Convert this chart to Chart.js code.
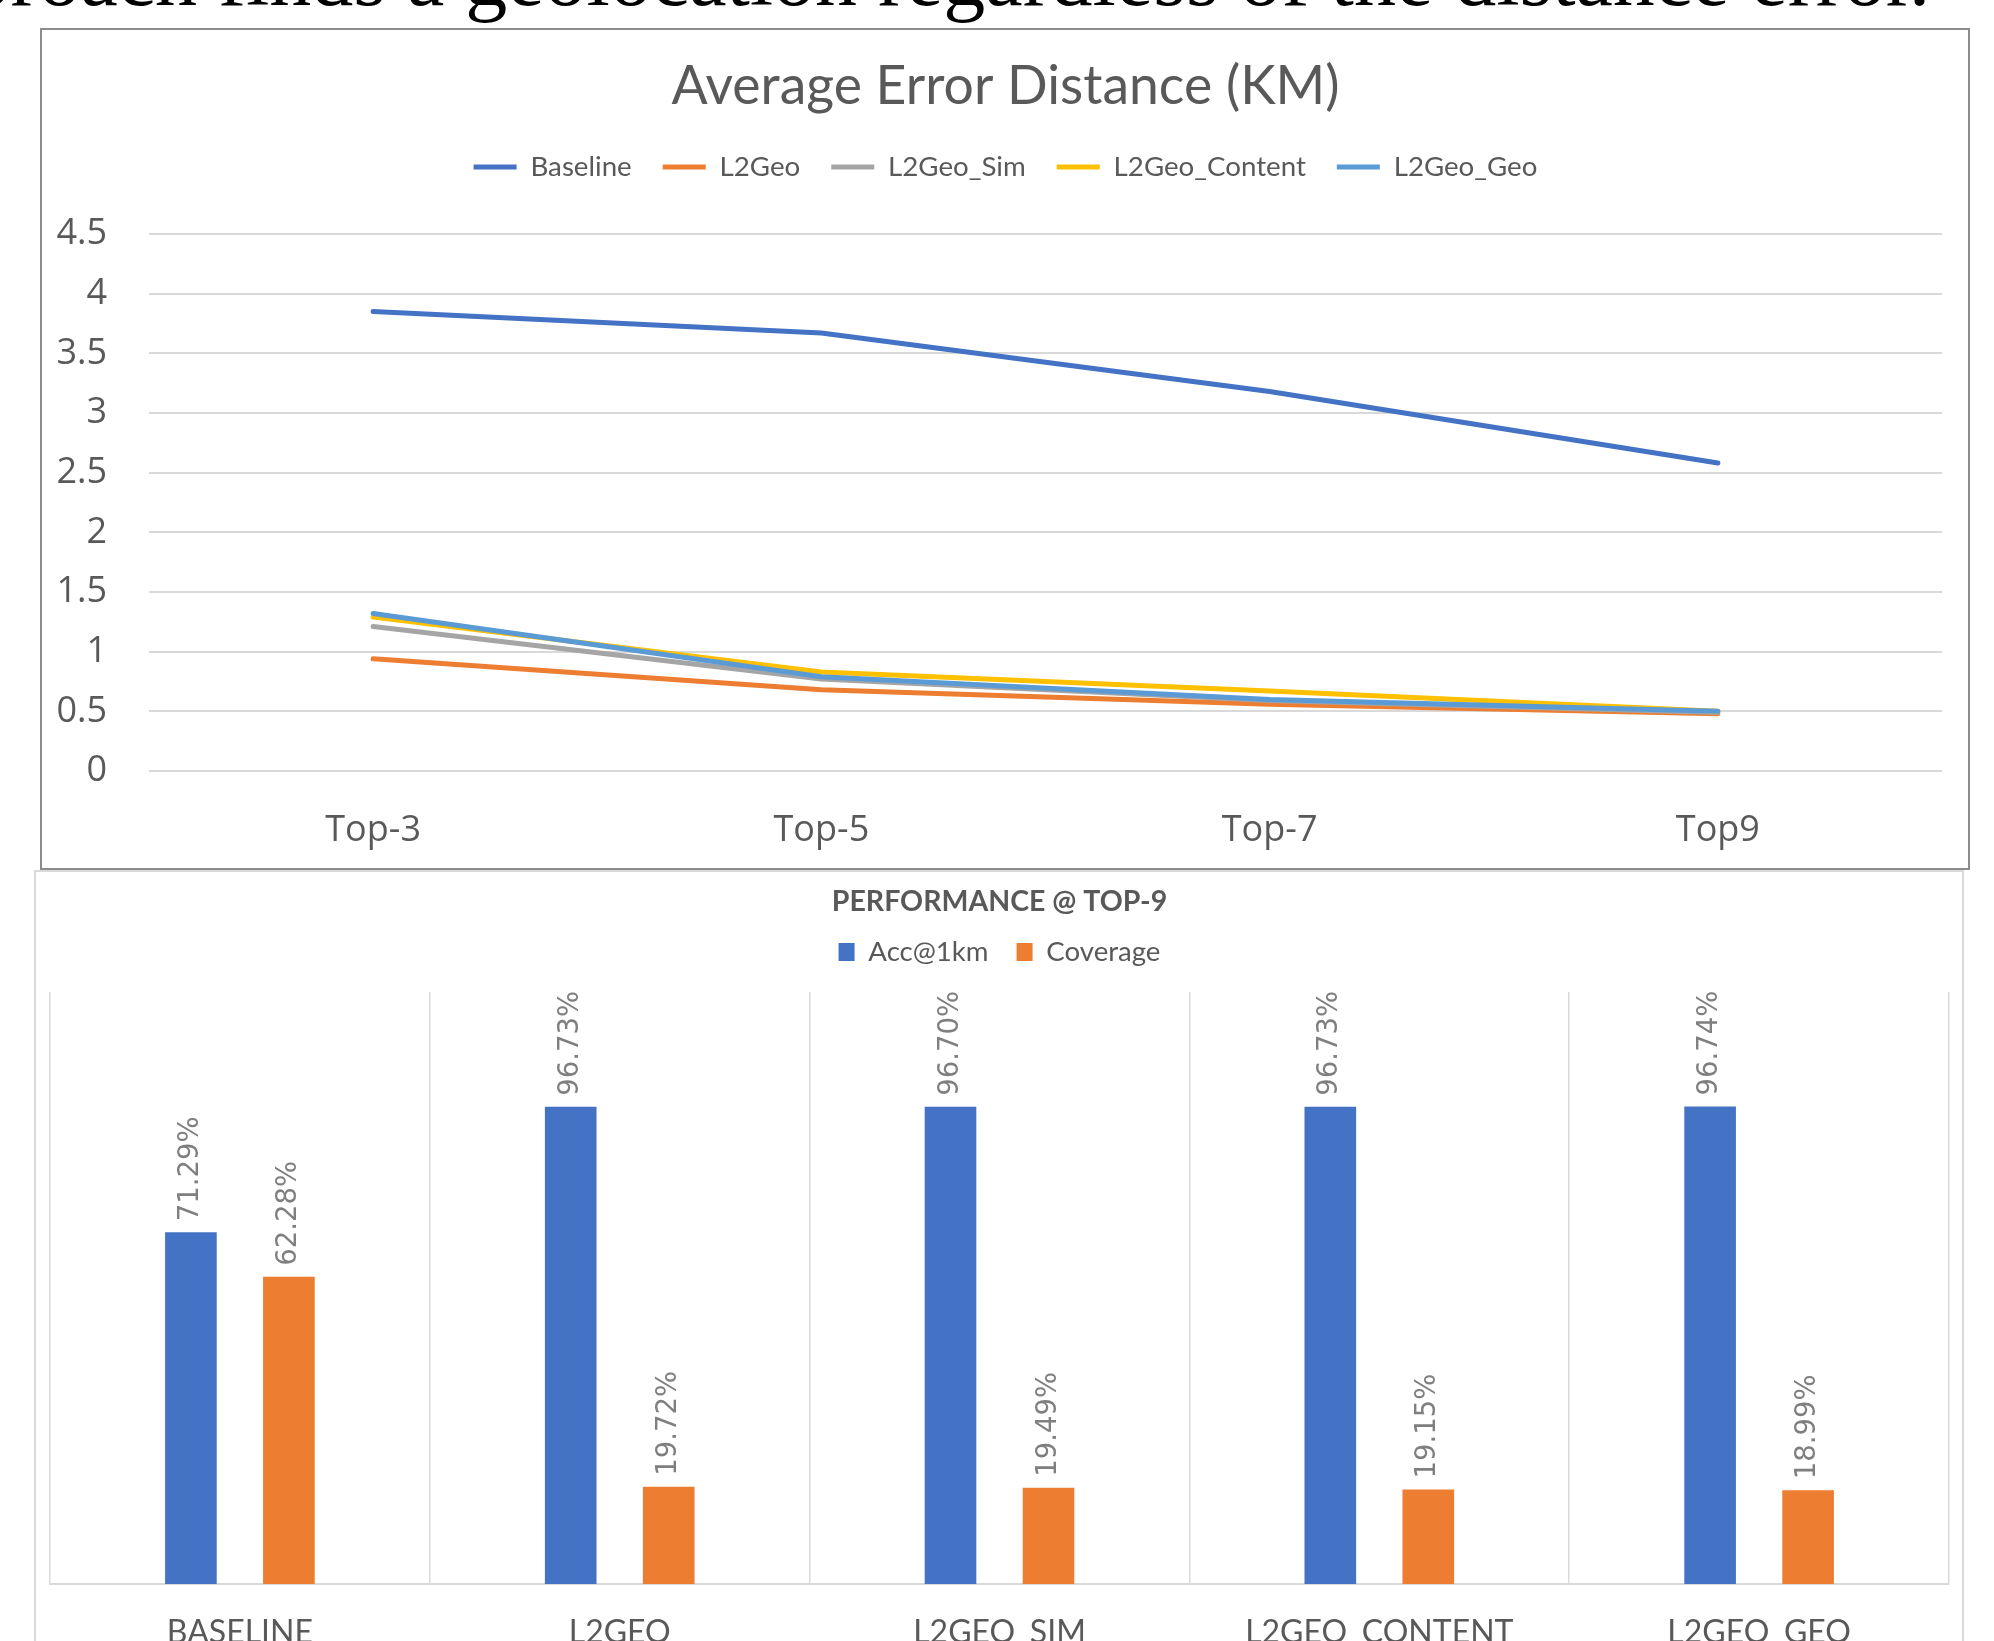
<!DOCTYPE html>
<html>
<head>
<meta charset="utf-8">
<title>Average Error Distance and Performance @ Top-9</title>
<script src="https://cdn.jsdelivr.net/npm/chart.js@4.4.1/dist/chart.umd.min.js"></script>
<style>
  html, body { margin: 0; padding: 0; background: #fff; }
  body { position: relative; width: 1994px; height: 1641px; overflow: hidden; }
  .caption {
    position: absolute; right: 64px; top: -65px;
    font: 84px/1 "Liberation Serif", "Times New Roman", serif;
    color: #000; white-space: nowrap;
  }
  .panel { position: absolute; box-sizing: border-box; background: #fff; }
  #linePanel { left: 40px; top: 28px; width: 1930px; height: 842px; border: 2px solid #8c8c8c; }
  #barPanel { left: 34px; top: 870px; width: 1930px; height: 804px; border: 2px solid #d9d9d9; }
  canvas { position: absolute; left: 0; top: 0; }
</style>
</head>
<body>
<div class="caption">approach finds a geolocation regardless of the distance error.</div>
<div class="panel" id="linePanel"><canvas id="distanceChart" width="1926" height="838"></canvas></div>
<div class="panel" id="barPanel"><canvas id="perfChart" width="1926" height="800"></canvas></div>

<script>
// ---- Average error distance (km) by top-k ----
const topK = ['Top-3', 'Top-5', 'Top-7', 'Top9'];
const baselineKm     = [3.85, 3.67, 3.18, 2.58];
const l2geoKm        = [0.94, 0.68, 0.56, 0.48];
const l2geoSimKm     = [1.21, 0.77, 0.59, 0.49];
const l2geoContentKm = [1.29, 0.83, 0.67, 0.50];
const l2geoGeoKm     = [1.32, 0.79, 0.60, 0.50];
const distanceAxisMax = 4.5;
const distanceAxisStep = 0.5;

// ---- Performance @ Top-9 (percent) ----
const methods  = ['BASELINE', 'L2GEO', 'L2GEO_SIM', 'L2GEO_CONTENT', 'L2GEO_GEO'];
const acc1km   = [71.29, 96.73, 96.70, 96.73, 96.74];
const coverage = [62.28, 19.72, 19.49, 19.15, 18.99];
const percentAxisMax = 120;

const TEXT = '#595959';
const GRID = '#d9d9d9';
const BODY_FONT = 'Lato, "Liberation Sans", sans-serif';
const AXIS_FONT = '"Open Sans", sans-serif';

Chart.defaults.font.family = BODY_FONT;
Chart.defaults.color = TEXT;

// Extra room between a chart's legend and its plot area.
function legendSpacing(extra) {
  return {
    id: 'legendSpacing',
    beforeInit(chart) {
      const fit = chart.legend.fit;
      chart.legend.fit = function () { fit.call(this); this.height += extra; };
    }
  };
}

function lineSeries(label, data, color, order) {
  return {
    label, data, order,
    borderColor: color, backgroundColor: color,
    borderWidth: 5, pointRadius: 0, tension: 0,
    borderCapStyle: 'round', borderJoinStyle: 'round'
  };
}

new Chart(document.getElementById('distanceChart'), {
  type: 'line',
  data: {
    labels: topK,
    datasets: [
      lineSeries('Baseline', baselineKm, '#4472C4', 4),
      lineSeries('L2Geo', l2geoKm, '#ED7D31', 3),
      lineSeries('L2Geo_Sim', l2geoSimKm, '#A5A5A5', 2),
      lineSeries('L2Geo_Content', l2geoContentKm, '#FFC000', 1),
      lineSeries('L2Geo_Geo', l2geoGeoKm, '#5B9BD5', 0)
    ]
  },
  options: {
    responsive: false,
    animation: false,
    layout: { padding: { left: 14, right: 13, top: 0, bottom: 0 } },
    plugins: {
      title: {
        display: true,
        text: 'Average Error Distance (KM)',
        color: TEXT,
        font: { family: BODY_FONT, size: 53.5, weight: 'normal' },
        padding: { top: 25, bottom: 3 }
      },
      legend: {
        display: true,
        labels: {
          usePointStyle: true, pointStyle: 'line', pointStyleWidth: 43,
          padding: 31, color: TEXT,
          font: { family: BODY_FONT, size: 27.7 },
          sort: (a, b) => a.datasetIndex - b.datasetIndex
        }
      },
      tooltip: { enabled: false }
    },
    scales: {
      x: {
        offset: true,
        grid: { display: false, drawTicks: false },
        border: { display: false },
        ticks: { color: TEXT, font: { family: AXIS_FONT, size: 36 }, padding: 38 },
        afterFit: scale => { scale.height = 97; }
      },
      y: {
        min: 0, max: distanceAxisMax,
        grid: { color: GRID, lineWidth: 2, drawTicks: false },
        border: { display: false },
        ticks: {
          stepSize: distanceAxisStep, color: TEXT,
          font: { family: AXIS_FONT, size: 36 }, padding: 42,
          callback: v => String(v)
        },
        afterFit: scale => { scale.width = 93; }
      },
      // blank margin on the right of the plot
      yRight: {
        position: 'right',
        grid: { display: false, drawTicks: false },
        border: { display: false },
        ticks: { display: false },
        afterFit: scale => { scale.width = 13; }
      }
    }
  },
  plugins: [legendSpacing(43)]
});

// Rotated value labels above each bar.
const barValueLabels = {
  id: 'barValueLabels',
  afterDatasetsDraw(chart) {
    const ctx = chart.ctx;
    ctx.save();
    ctx.font = '27.5px "DejaVu Sans", sans-serif';
    ctx.fillStyle = '#7f7f7f';
    ctx.textAlign = 'left';
    ctx.textBaseline = 'middle';
    chart.data.datasets.forEach((ds, i) => {
      chart.getDatasetMeta(i).data.forEach((bar, j) => {
        ctx.save();
        ctx.translate(bar.x, bar.y - 11);
        ctx.rotate(-Math.PI / 2);
        ctx.fillText(ds.data[j].toFixed(2) + '%', 0, 0);
        ctx.restore();
      });
    });
    ctx.restore();
  }
};

new Chart(document.getElementById('perfChart'), {
  type: 'bar',
  data: {
    labels: methods,
    datasets: [
      { label: 'Acc@1km', data: acc1km, backgroundColor: '#4472C4', borderWidth: 0 },
      { label: 'Coverage', data: coverage, backgroundColor: '#ED7D31', borderWidth: 0 }
    ]
  },
  options: {
    responsive: false,
    animation: false,
    categoryPercentage: 0.516,
    barPercentage: 0.527,
    layout: { padding: { left: 14, right: 13, top: 0, bottom: 0 } },
    plugins: {
      title: {
        display: true,
        text: 'PERFORMANCE @ TOP-9',
        color: TEXT,
        font: { family: BODY_FONT, size: 28.5, weight: 'bold' },
        padding: { top: 13, bottom: -9 }
      },
      legend: {
        display: true,
        labels: { boxWidth: 16, boxHeight: 18, padding: 28, color: TEXT, font: { family: BODY_FONT, size: 27.6 } }
      },
      tooltip: { enabled: false }
    },
    scales: {
      x: {
        grid: { color: GRID, lineWidth: 1.5, drawTicks: false, offset: true },
        border: { display: true, color: GRID, width: 2 },
        ticks: { color: TEXT, font: { family: BODY_FONT, size: 32 }, padding: 29 },
        afterFit: scale => { scale.height = 88; }
      },
      y: { display: false, min: 0, max: percentAxisMax }
    }
  },
  plugins: [legendSpacing(16), barValueLabels]
});
</script>
</body>
</html>
